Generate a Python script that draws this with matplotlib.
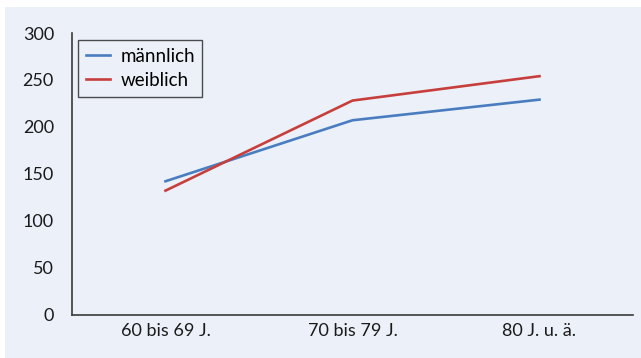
import matplotlib.pyplot as plt
from matplotlib.patches import Rectangle

# Altersgruppen und Werte je Geschlecht
age_groups = ['60 bis 69 J.', '70 bis 79 J.', '80 J. u. ä.']
maennlich = [142, 207, 229]
weiblich = [132, 228, 254]
yticks = [0, 50, 100, 150, 200, 250, 300]

plt.rcParams['font.family'] = ['Lato', 'DejaVu Sans']

bg = '#ECF1F9'
fig = plt.figure(figsize=(6.41, 3.58), dpi=100)
fig.patch.set_facecolor('white')
fig.add_artist(Rectangle((5 / 641, 0), 1, 1 - 7 / 358, transform=fig.transFigure,
                         facecolor=bg, edgecolor='none', zorder=0))

ax = fig.add_axes([72 / 641, 1 - 314.5 / 358, (633 - 72) / 641, (314.5 - 33) / 358])
ax.set_facecolor('none')

x = range(len(age_groups))
ax.plot(x, maennlich, color='#4A7DC0', lw=1.9, label='männlich')
ax.plot(x, weiblich, color='#C73F3C', lw=1.9, label='weiblich')

ax.set_xlim(-0.5, len(age_groups) - 0.5)
ax.set_ylim(0, 300)
ax.set_xticks(list(x))
ax.set_xticklabels(age_groups)
ax.set_yticks(yticks)
ax.tick_params(length=0, labelsize=13, colors='#1a1a1a')
ax.tick_params(axis='y', pad=13)
ax.tick_params(axis='x', pad=6)

for side in ['top', 'right']:
    ax.spines[side].set_visible(False)
for side in ['left', 'bottom']:
    ax.spines[side].set_color('#3a3a3a')
    ax.spines[side].set_linewidth(1.2)

leg = ax.legend(loc='upper left', bbox_to_anchor=(0.0107, 0.975), borderaxespad=0,
                fontsize=13.5, frameon=True, fancybox=False, handlelength=1.3,
                borderpad=0.4, labelspacing=0.4, handletextpad=0.55)
leg.get_frame().set_edgecolor('#222222')
leg.get_frame().set_facecolor('none')
leg.get_frame().set_linewidth(1.0)

fig.savefig('out.png', dpi=100)
